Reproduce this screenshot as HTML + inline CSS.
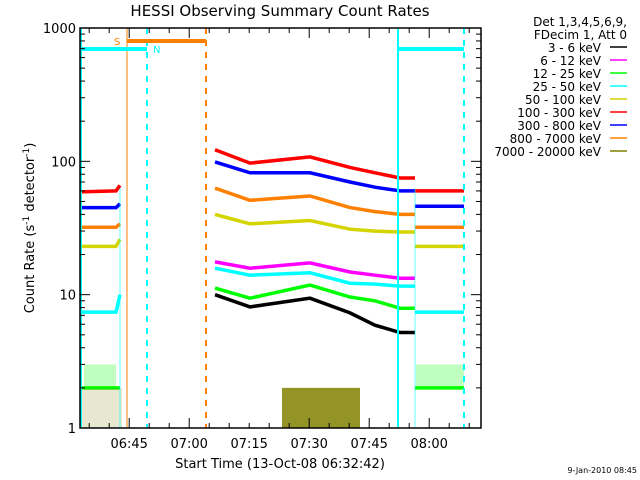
<!DOCTYPE html>
<html><head><meta charset="utf-8">
<style>
body{margin:0;background:#fff;}
svg{display:block;font-family:"DejaVu Sans","Liberation Sans",sans-serif;}
</style></head>
<body>
<svg id="chart" width="640" height="480" xmlns="http://www.w3.org/2000/svg">
<rect width="640" height="480" fill="#fff"/>
<text x="280" y="16" font-size="15" text-anchor="middle">HESSI Observing Summary Count Rates</text>
<g id="plot"></g>
<text transform="translate(34,228) rotate(-90)" font-size="13" text-anchor="middle">Count Rate (s<tspan dy="-5" font-size="9">-1</tspan><tspan dy="5"> detector</tspan><tspan dy="-5" font-size="9">-1</tspan><tspan dy="5">)</tspan></text>
<text x="280" y="468" font-size="13" text-anchor="middle">Start Time (13-Oct-08 06:32:42)</text>
<text x="637" y="473" font-size="8" text-anchor="end">9-Jan-2010 08:45</text>
<g id="legend"></g>
</svg>
<script>
const seriesNames=["3 - 6 keV","6 - 12 keV","12 - 25 keV","25 - 50 keV","50 - 100 keV","100 - 300 keV","300 - 800 keV","800 - 7000 keV","7000 - 20000 keV"];
const seriesColors=["#000000","#ff00ff","#00ff00","#00ffff","#d4d400","#ff0000","#0000ff","#ff8000","#808000"];
const yTickLabels=["1","10","100","1000"];
const yTickValues=[1,10,100,1000];
const xTickLabels=["06:45","07:00","07:15","07:30","07:45","08:00"];
const xTickMinutes=[12.3,27.3,42.3,57.3,72.3,87.3];
// minutes after 06:32:42
const segA_t=[0,9,10];
const segB_t=[33.75,42.5,57.5,67.5,73.75,80,83.75];
const segC_t=[83.75,96];
const segA_vals=[null,null,[2,2,2],[7.4,7.4,10],[23,23,26],[59,60,66],[45,45,48],[32,32,34],[null]];
const segB_vals=[
 [10,8.1,9.4,7.3,5.9,5.2,5.2],
 [17.6,15.8,17.3,14.8,14,13.3,13.3],
 [11.2,9.4,11.8,9.6,9,7.9,7.9],
 [15.8,14,14.6,12.2,12,11.6,11.6],
 [40,34,36,31,30,29.5,29.5],
 [122,97,108,90,82,75,75],
 [99,82,82,70,64,60,60],
 [63,51,55,45,42,40,40],
 null];
const segC_vals=[null,null,[2,2],[7.4,7.4],[23,23],[60,60],[46,46],[32,32],null];
const oliveBlock=[50.5,70,2];
const oliveA=[0,10,2];

const L=80,R=481,T=28,B=428;
const X=t=>L+t*4;
const Y=v=>B-(B-T)*Math.log10(v)/3;
const NS="http://www.w3.org/2000/svg";
const plot=document.getElementById('plot');
function mk(tag,attrs,parent){const e=document.createElementNS(NS,tag);for(const k in attrs)e.setAttribute(k,attrs[k]);(parent||plot).appendChild(e);return e;}

function drawSeg(ts,vals,seg){
 vals.forEach((vs,i)=>{
  if(!vs||vs[0]==null)return;
  let pts=[];
  ts.forEach((t,j)=>{pts.push(X(t)+","+Y(vs[j]).toFixed(1));});
  const p=mk('polyline',{points:pts.join(" "),fill:"none",stroke:seriesColors[i],"stroke-width":3.5});
  
  
 });
}
drawSeg(segA_t,segA_vals,'a');
drawSeg(segB_t,segB_vals,'b');
drawSeg(segC_t,segC_vals,'c');
[[1,9],[84,96]].forEach(r=>{
 const g=mk('rect',{x:X(r[0]),y:Y(3),width:X(r[1])-X(r[0]),height:Y(2)-Y(3),fill:"#00ff00",opacity:0.25});
 
 
});
const ob=mk('rect',{x:X(oliveBlock[0]),y:Y(oliveBlock[2]),width:X(oliveBlock[1])-X(oliveBlock[0]),height:B-Y(oliveBlock[2]),fill:"#808000",opacity:0.85});


const oa=mk('rect',{x:X(oliveA[0])+2,y:Y(oliveA[2]),width:X(oliveA[1])-X(oliveA[0]),height:B-Y(oliveA[2]),fill:"#808000",opacity:0.18});


[[10,120],[83.75,415]].forEach(d=>{
 const l=mk('line',{x1:X(d[0]),x2:X(d[0]),y1:188,y2:B,stroke:"#00ffff","stroke-width":1,opacity:0.6});
 
 
});

const vlines=[[81,"#00ffff",""],[147,"#00ffff","6,6"],[398,"#00ffff",""],[464,"#00ffff","6,6"],[127,"#ff8000",""],[206,"#ff8000","6,6"]];
vlines.forEach(v=>{
 const l=mk('line',{x1:v[0],x2:v[0],y1:T,y2:B,stroke:v[1],"stroke-width":v[0]==127?1:2,"stroke-dasharray":v[2]});
 
 
});
[[127,206,41,"#ff8000"],[80,147,49,"#00ffff"],[398,464,49,"#00ffff"]].forEach(b=>{
 const l=mk('line',{x1:b[0],x2:b[1],y1:b[2],y2:b[2],stroke:b[3],"stroke-width":4});
 
 
});
const s=mk('text',{x:114,y:45,"font-size":10,fill:"#ff8000"});s.textContent="S";


const n=mk('text',{x:153,y:53,"font-size":10,fill:"#00ffff"});n.textContent="N";



const box=mk('rect',{x:L,y:T,width:R-L,height:B-T,fill:"none",stroke:"#000","stroke-width":1.5});


for(let d=0;d<3;d++)for(let m=1;m<10;m++){
 const y=Y(m*Math.pow(10,d));const len=m==1?10:5;
 mk('line',{x1:L,x2:L+len,y1:y,y2:y,stroke:"#000"});
 mk('line',{x1:R,x2:R-len,y1:y,y2:y,stroke:"#000"});
}
yTickValues.forEach((v,i)=>{
 const t=mk('text',{x:76,y:Y(v)+5,"font-size":13,"text-anchor":"end"});t.textContent=yTickLabels[i];
 
 
});
for(let t=2.3;t<=100;t+=5){
 const major=Math.abs(((t-12.3)%15+15)%15)<0.01;const len=major?10:5;
 mk('line',{x1:X(t),x2:X(t),y1:B,y2:B-len,stroke:"#000"});
 mk('line',{x1:X(t),x2:X(t),y1:T,y2:T+len,stroke:"#000"});
}
xTickMinutes.forEach((m,i)=>{
 const t=mk('text',{x:X(m),y:448,"font-size":13,"text-anchor":"middle"});t.textContent=xTickLabels[i];
 
 
});

const lg=document.getElementById('legend');
[["Det 1,3,4,5,6,9,",627,26],["FDecim 1, Att 0",627,39]].forEach(h=>{
 const t=mk('text',{x:h[1],y:h[2],"font-size":12,"text-anchor":"end"},lg);t.textContent=h[0];
 
 
});
seriesNames.forEach((nm,i)=>{
 const y=52+i*13;
 const t=mk('text',{x:601,y:y,"font-size":12,"text-anchor":"end"},lg);t.textContent=nm;
 
 
 const l=mk('line',{x1:610,x2:627,y1:y-5,y2:y-5,stroke:seriesColors[i],"stroke-width":1.5},lg);
 
 
});
</script>
</body></html>
